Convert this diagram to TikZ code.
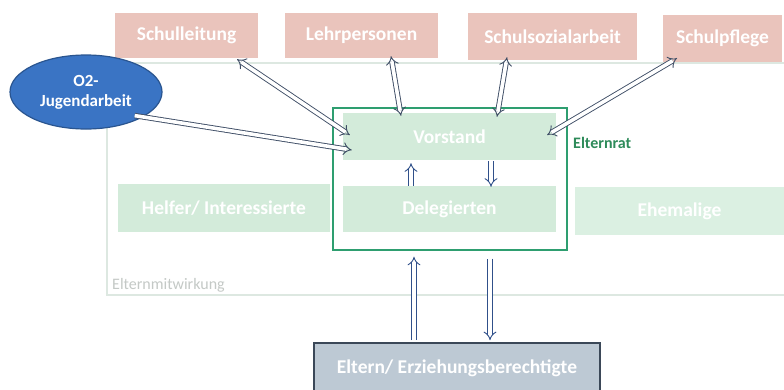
\documentclass[tikz,border=0pt]{standalone}
\usepackage{fontspec}
\setmainfont{Carlito}
\usetikzlibrary{arrows.meta,shapes.geometric,calc}
\definecolor{redfill}{HTML}{EAC4BC}
\definecolor{greenfill}{HTML}{D3EBDA}
\definecolor{greenfillb}{HTML}{DBF0E2}
\definecolor{ratgreen}{HTML}{2E9E70}
\definecolor{ratlabel}{HTML}{2E8B5A}
\definecolor{outerline}{HTML}{DDE8E1}
\definecolor{mitwgray}{HTML}{C4C9C6}
\definecolor{elternfill}{HTML}{BDC9D4}
\definecolor{elternline}{HTML}{3B4858}
\definecolor{o2fill}{HTML}{3A74C4}
\definecolor{o2line}{HTML}{2A5590}
\definecolor{arrowdiag}{HTML}{3F4E66}
\definecolor{arrowvert}{HTML}{30508A}
\begin{document}
\begin{tikzpicture}[x=1pt,y=-1pt,
  boxtext/.style={text=white, font=\bfseries\fontsize{19.5}{22}\selectfont, inner sep=0pt, align=center},
  topbox/.style={boxtext, fill=redfill, draw=none},
  greenbox/.style={boxtext, fill=greenfill, draw=none},
  link/.style={draw=arrowdiag, line width=0.9pt, double=white, double distance=3.6pt},
  vlink/.style={draw=arrowvert, line width=0.9pt, double=white, double distance=3.6pt}
]
\useasboundingbox (0,0) rectangle (784,389);
\clip (0,0) rectangle (784,389);
\fill[white] (0,0) rectangle (784,389);

% outer frame Elternmitwirkung
\draw[outerline, line width=1.2pt] (790,63) -- (107,63) -- (107,295) -- (790,295);
\node[anchor=west, text=mitwgray, font=\fontsize{16}{18}\selectfont, inner sep=0pt] (mitw) at (112,285) {Elternmitwirkung};

% top boxes
\node[topbox, minimum width=143pt, minimum height=45pt] (schulleitung) at (186.5,35.5) {Schulleitung};
\node[topbox, minimum width=153pt, minimum height=45pt] (lehrpersonen) at (361.5,35.5) {Lehrpersonen};
\node[topbox, minimum width=169pt, minimum height=47pt] (schulsozial) at (552.5,36.5) {Schulsozialarbeit};
\node[topbox, minimum width=119pt, minimum height=47pt] (schulpflege) at (722.5,38.5) {Schulpflege};

% Elternrat frame
\node[draw=ratgreen, line width=1.4pt, minimum width=234pt, minimum height=142pt, inner sep=0pt] (elternrat) at (450,179) {};
\node[anchor=west, text=ratlabel, font=\bfseries\fontsize{16}{18}\selectfont, inner sep=0pt] (ratlabel) at (573,143) {Elternrat};

% green boxes
\node[greenbox, minimum width=213pt, minimum height=47pt] (vorstand) at (449.5,136.5) {Vorstand};
\node[greenbox, minimum width=213pt, minimum height=46pt] (delegierten) at (449.5,209) {Delegierten};
\node[greenbox, minimum width=212pt, minimum height=48pt] (helfer) at (224,208) {Helfer/ Interessierte};
\node[greenbox, fill=greenfillb, minimum width=209pt, minimum height=48pt] (ehemalige) at (679.5,211) {Ehemalige};

% Eltern box
\node[boxtext, fill=elternfill, draw=elternline, line width=1.6pt, minimum width=286pt, minimum height=50pt] (eltern) at (457,368) {Eltern/ Erziehungsberechtigte};

% O2 ellipse
\node[ellipse, fill=o2fill, draw=o2line, line width=1.2pt, minimum width=152pt, minimum height=74pt, inner sep=0pt, text=white, font=\bfseries\fontsize{17}{20}\selectfont, align=center] (o2) at (86,92) {O2-\\Jugendarbeit};

% diagonal connectors
\draw[link, {Implies}-{Implies}] ([xshift=50.5pt,yshift=-1pt]schulleitung.south) -- ([xshift=7pt,yshift=1.5pt]vorstand.west);
\draw[link, {Implies}-{Implies}] ([xshift=29.5pt,yshift=2pt]lehrpersonen.south) -- ([xshift=-48.5pt,yshift=-3pt]vorstand.north);
\draw[link, {Implies}-{Implies}] ([xshift=-45.5pt,yshift=3pt]schulsozial.south) -- ([xshift=47.5pt,yshift=-4pt]vorstand.north);
\draw[link, {Implies}-{Implies}] ([xshift=-45.5pt,yshift=4pt]schulpflege.south) -- ([xshift=-9pt,yshift=1.5pt]vorstand.east);
\draw[link, -{Implies}] ([xshift=-5.5pt,yshift=3pt]o2.south east) -- ([xshift=9pt,yshift=-13.5pt]vorstand.west);

% vertical connectors inside Elternrat
\draw[vlink, -{Implies}] ([xshift=-38.5pt]delegierten.north) -- ([xshift=-38.5pt,yshift=-3pt]vorstand.south);
\draw[vlink, -{Implies}] ([xshift=41.5pt,yshift=-1pt]vorstand.south) -- ([xshift=41.5pt,yshift=-1pt]delegierten.north);

% Eltern <-> Elternrat
\draw[vlink, -{Implies}] ([xshift=-36pt,yshift=2pt]elternrat.south |- eltern.north) -- ([xshift=-36pt,yshift=-6pt]elternrat.south);
\draw[vlink, -{Implies}] ([xshift=40pt,yshift=-8pt]elternrat.south) -- ([xshift=40pt,yshift=2pt]elternrat.south |- eltern.north);
\end{tikzpicture}
\end{document}
